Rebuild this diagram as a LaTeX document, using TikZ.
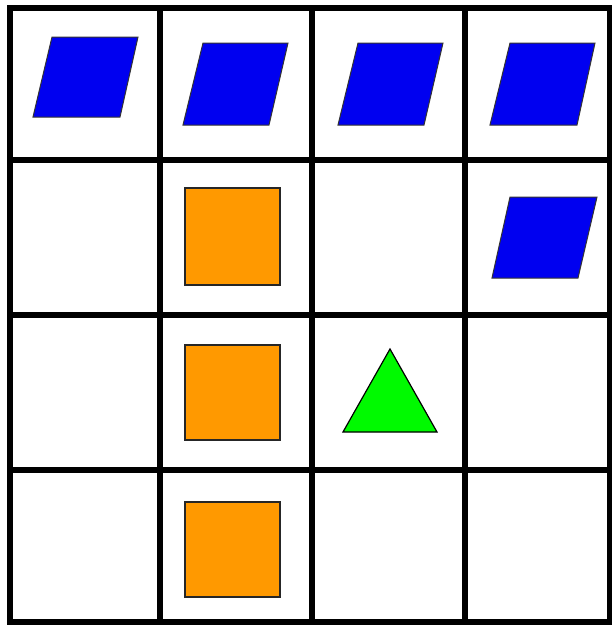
\documentclass[tikz,border=0pt]{standalone}
\begin{document}
\begin{tikzpicture}[x=1pt,y=-1pt,
  gridline/.style={line width=5.5pt,black,line cap=rect},
  para/.style={fill={rgb,255:red,0;green,0;blue,240},draw=black!80,line width=1pt,line join=miter},
  sq/.style={fill={rgb,255:red,255;green,153;blue,0},draw=black!85,line width=1.2pt},
  tri/.style={fill={rgb,255:red,0;green,250;blue,0},draw=black,line width=1.2pt,line join=miter}]
\useasboundingbox (0,0) rectangle (612,625);
\fill[white] (0,0) rectangle (612,625);
% grid
\foreach \x in {10,160,312,465,610} \draw[gridline] (\x,8) -- (\x,622);
\foreach \y in {8,160,315,470,622} \draw[gridline] (10,\y) -- (610,\y);
% parallelograms
\draw[para] (52,37) -- (138,37) -- (120,117) -- (33,117) -- cycle;
\draw[para] (203,43) -- (288,43) -- (269,125) -- (183,125) -- cycle;
\draw[para] (358,43) -- (443,43) -- (424,125) -- (338,125) -- cycle;
\draw[para] (510,43) -- (595,43) -- (577,125) -- (490,125) -- cycle;
\draw[para] (510,197) -- (597,197) -- (578,278) -- (492,278) -- cycle;
% squares
\draw[sq] (185,188) rectangle (280,285);
\draw[sq] (185,345) rectangle (280,440);
\draw[sq] (185,502) rectangle (280,597);
% triangle
\draw[tri] (390,349) -- (437,432) -- (343,432) -- cycle;
\end{tikzpicture}
\end{document}
